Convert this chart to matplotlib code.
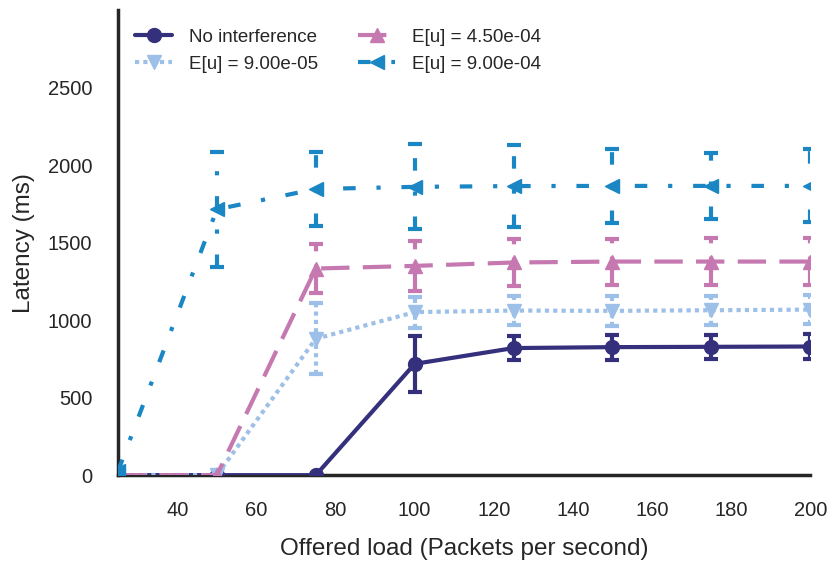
import matplotlib.pyplot as plt
import seaborn as sns

# offered load and mean latency per scenario
load = [25, 50, 75, 100, 125, 150, 175, 200]

no_interf = [0, 0, 0, 718, 820, 826, 828, 830]
no_interf_err = [0, 0, 0, 183, 80, 80, 78, 78]

eu_9e5 = [0, 0, 880, 1052, 1062, 1060, 1064, 1068]
eu_9e5_err = [0, 0, 230, 100, 95, 95, 95, 95]

eu_45e4 = [0, 0, 1333, 1350, 1372, 1378, 1378, 1378]
eu_45e4_err = [0, 0, 157, 160, 150, 148, 150, 150]

eu_9e4 = [25, 1715, 1846, 1860, 1865, 1866, 1866, 1866]
eu_9e4_err = [0, 370, 240, 275, 265, 240, 215, 235]

sns.set_style('white')
plt.rcParams['font.family'] = ['Liberation Sans', 'DejaVu Sans']

fig = plt.figure(figsize=(8.31, 5.63), dpi=100)
ax = fig.add_axes([0.142, 0.156, 0.833, 0.826])

series = [
    (no_interf, no_interf_err, 'No interference', '#35307b', 'o', '-'),
    (eu_9e5, eu_9e5_err, 'E[u] = 9.00e-05', '#9dc0e8', 'v', (0, (1, 1))),
    (eu_45e4, eu_45e4_err, 'E[u] = 4.50e-04', '#c678b0', '^', (0, (6.8, 3.2))),
    (eu_9e4, eu_9e4_err, 'E[u] = 9.00e-04', '#1a86c4', '<', (0, (3, 5, 1, 5))),
]

handles = []
for y, err, label, color, marker, ls in series:
    lo = [v - e for v, e in zip(y, err)]
    hi = [v + e for v, e in zip(y, err)]
    # error bars drawn with the series line style, plus caps
    for x, a, b in zip(load, lo, hi):
        ax.plot([x, x], [a, b], color=color, ls=ls, lw=3, zorder=2)
    ax.plot(load, lo, ls='none', marker='_', ms=10, mew=3, color=color, zorder=2)
    ax.plot(load, hi, ls='none', marker='_', ms=10, mew=3, color=color, zorder=2)
    ln, = ax.plot(load, y, color=color, marker=marker, ls=ls, lw=3, ms=10,
                  label=label, zorder=3)
    handles.append(ln)

ax.set_xlim(25, 200)
ax.set_ylim(0, 3000)
ax.set_xticks([40, 60, 80, 100, 120, 140, 160, 180, 200])
ax.set_yticks([0, 500, 1000, 1500, 2000, 2500])
ax.tick_params(labelsize=14.5, colors='#262626', pad=15)
ax.set_xlabel('Offered load (Packets per second)', fontsize=17.5,
              color='#262626', labelpad=13)
ax.set_ylabel('Latency (ms)', fontsize=17.5, color='#262626', labelpad=9)

for side in ['top', 'right']:
    ax.spines[side].set_visible(False)
for side in ['left', 'bottom']:
    ax.spines[side].set_color('#262626')
    ax.spines[side].set_linewidth(2.5)

ax.legend(handles=handles, ncol=2, loc='upper left', frameon=False,
          fontsize=13.5, handlelength=2.0, handletextpad=0.9,
          columnspacing=2.1, labelspacing=0.55,
          bbox_to_anchor=(0.0, 0.997))

fig.savefig('out.png', dpi=100)
